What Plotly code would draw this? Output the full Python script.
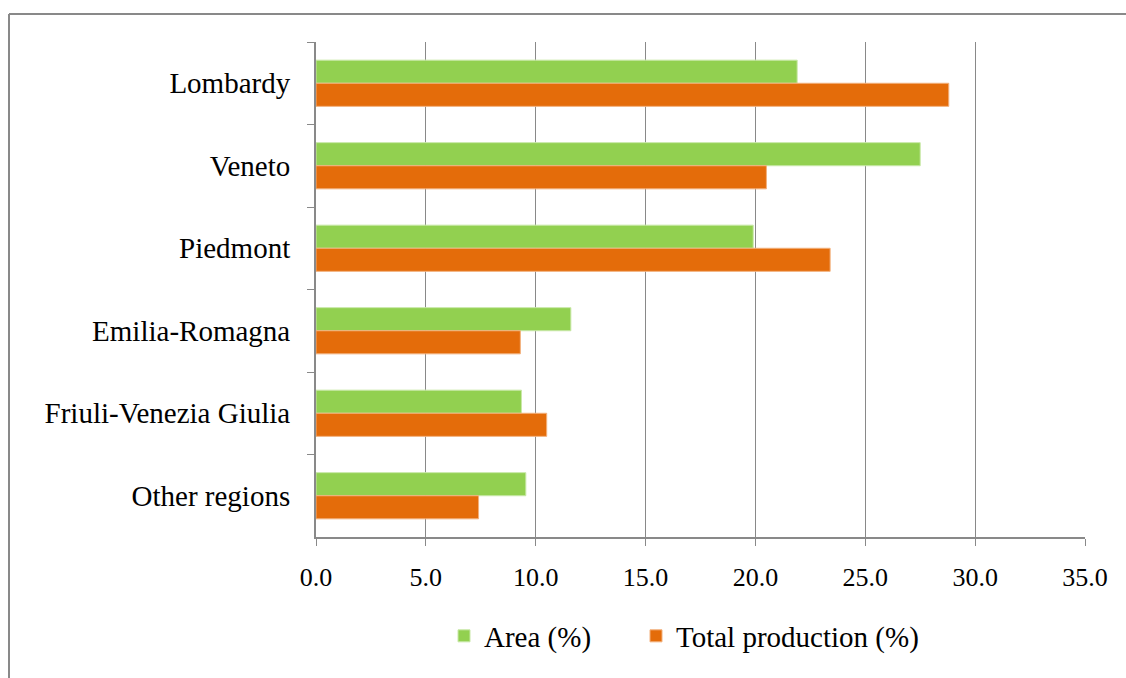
import plotly.graph_objects as go

regions = ["Lombardy", "Veneto", "Piedmont", "Emilia-Romagna",
           "Friuli-Venezia Giulia", "Other regions"]
area_pct = [21.9, 27.5, 19.9, 11.6, 9.35, 9.55]
production_pct = [28.8, 20.5, 23.4, 9.3, 10.5, 7.4]
x_ticks = [0, 5, 10, 15, 20, 25, 30, 35]

W, H = 1126, 678
L, R, T, B = 316, 1085, 42, 537
FONT = "Liberation Serif, Times New Roman, serif"
GREY = "#898989"

fig = go.Figure()
fig.add_trace(go.Bar(
    y=regions, x=area_pct, orientation="h", name="Area (%)",
    marker=dict(color="#92D050", line=dict(color="#c9e8a8", width=1)),
    legend="legend",
))
fig.add_trace(go.Bar(
    y=regions, x=production_pct, orientation="h", name="Total production (%)",
    marker=dict(color="#E46C0A", line=dict(color="#f2b07c", width=1)),
    legend="legend2",
))

# px -> paper coordinates for the outer frame and legends
def px_x(px):
    return (px - L) / (R - L)

def px_y(py):
    return (B - py) / (B - T)

frame = dict(type="line", xref="paper", yref="paper",
             line=dict(color=GREY, width=2), layer="above")
fig.add_shape(**frame, x0=px_x(9), x1=px_x(9), y0=px_y(14), y1=px_y(700))
fig.add_shape(**frame, x0=px_x(9), x1=px_x(1130), y0=px_y(14), y1=px_y(14))

legend_style = dict(orientation="h", xanchor="left", yanchor="middle",
                    y=px_y(636), itemwidth=30,
                    font=dict(family=FONT, size=29, color="black"))

fig.update_layout(
    width=W, height=H,
    margin=dict(l=L, r=W - R, t=T, b=H - B, pad=0),
    paper_bgcolor="white", plot_bgcolor="white",
    barmode="group", bargap=0.44, bargroupgap=0,
    font=dict(family=FONT, size=29, color="black"),
    showlegend=True,
    legend=dict(**legend_style, x=px_x(444)),
    legend2=dict(**legend_style, x=px_x(636)),
    xaxis=dict(range=[0, 35], tickvals=x_ticks, tickformat=".1f",
               showgrid=True, gridcolor=GREY, gridwidth=1,
               showline=True, linecolor=GREY, linewidth=2,
               ticks="outside", ticklen=7, tickcolor=GREY, tickwidth=1,
               zeroline=False, fixedrange=True, ticklabelstandoff=9,
               tickfont=dict(family=FONT, size=26, color="black")),
    yaxis=dict(autorange="reversed", type="category",
               showline=True, linecolor=GREY, linewidth=2,
               ticks="outside", tickson="boundaries", ticklen=7,
               tickcolor=GREY, tickwidth=1, showgrid=False,
               ticklabelstandoff=18,
               tickfont=dict(family=FONT, size=29, color="black")),
)

fig.write_html("out.html")
